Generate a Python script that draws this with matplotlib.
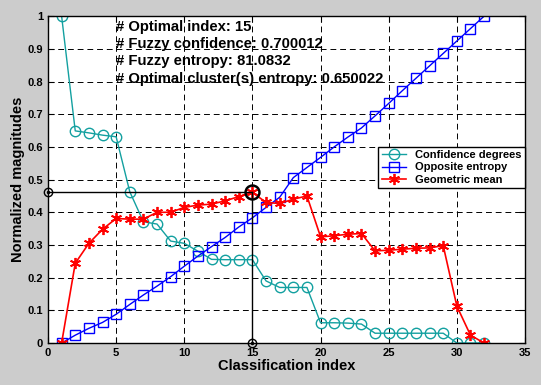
import numpy as np
import matplotlib
matplotlib.use('Agg')
import matplotlib.pyplot as plt

plt.rcParams['font.family'] = ['Liberation Sans', 'DejaVu Sans']
plt.rcParams['font.weight'] = 'bold'

# data
idx = np.arange(1, 33)
confidence = [1.0, 0.649, 0.643, 0.636, 0.631, 0.463, 0.371, 0.364, 0.312, 0.305,
              0.281, 0.256, 0.255, 0.255, 0.255, 0.19, 0.17, 0.17, 0.17, 0.062,
              0.062, 0.061, 0.058, 0.03, 0.03, 0.03, 0.03, 0.03, 0.03, 0.0,
              0.0, 0.0]
opposite = [0.0, 0.024, 0.045, 0.063, 0.088, 0.118, 0.147, 0.174, 0.203, 0.235,
            0.266, 0.295, 0.323, 0.355, 0.383, 0.415, 0.446, 0.506, 0.537, 0.568,
            0.6, 0.63, 0.658, 0.695, 0.733, 0.772, 0.81, 0.848, 0.886, 0.924,
            0.962, 1.0]
geomean = [0.0, 0.244, 0.305, 0.348, 0.381, 0.379, 0.379, 0.4, 0.4, 0.415,
           0.422, 0.425, 0.435, 0.448, 0.461, 0.43, 0.427, 0.44, 0.45, 0.325,
           0.328, 0.333, 0.335, 0.282, 0.284, 0.287, 0.29, 0.291, 0.298, 0.113,
           0.024, 0.0]

opt_index = 15
opt_value = geomean[opt_index - 1]
info = ['# Optimal index: 15',
        '# Fuzzy confidence: 0.700012',
        '# Fuzzy entropy: 81.0832',
        '# Optimal cluster(s) entropy: 0.650022']

fig = plt.figure(figsize=(5.41, 3.85), dpi=100, facecolor='#cccccc')
ax = fig.add_axes([0.0887, 0.109, 0.8817, 0.849])

teal = '#13a0a0'
ax.plot(idx, confidence, '-o', color=teal, mfc='none', ms=7.5, lw=1, mew=1,
        label='Confidence degrees')
ax.plot(idx, opposite, '-s', color='blue', mfc='none', ms=7.5, lw=1, mew=1,
        label='Opposite entropy')
ax.plot(idx, geomean, '-', marker=(6, 2, 0), color='red', ms=8, lw=1.2, mew=1.3,
        label='Geometric mean')

# crosshair at the optimum
ax.plot([0, opt_index], [opt_value, opt_value], color='black', lw=1, clip_on=False)
ax.plot([opt_index, opt_index], [0, opt_value], color='black', lw=1, clip_on=False)
ax.plot([0, opt_index], [opt_value, 0], 'o', color='black', mfc='none', ms=6,
        mew=1, ls='none', clip_on=False)
ax.plot([0, opt_index], [opt_value, 0], '.', color='black', ms=3, ls='none',
        clip_on=False)
ax.plot([opt_index], [opt_value], 'o', color='black', mfc='none', ms=10, mew=1.8)

ax.text(5, 0.888, '\n'.join(info), fontsize=10.7, fontweight='bold',
        va='center', ha='left', linespacing=1.3)

ax.set_xlim(0, 35)
ax.set_ylim(0, 1)
ax.set_xticks(np.arange(0, 36, 5))
ax.set_yticks(np.arange(0, 1.01, 0.1))
ax.set_yticklabels(['0', '0.1', '0.2', '0.3', '0.4', '0.5', '0.6', '0.7',
                    '0.8', '0.9', '1'])
ax.tick_params(direction='in', labelsize=8, length=4, top=True, right=True)
ax.grid(True, color='black', ls=(0, (6, 4)), lw=0.7)
for s in ax.spines.values():
    s.set_linewidth(1)

ax.set_xlabel('Classification index', fontsize=10.5, fontweight='bold', labelpad=1)
ax.set_ylabel('Normalized magnitudes', fontsize=10.5, fontweight='bold', labelpad=2)

leg = ax.legend(loc='upper right', bbox_to_anchor=(1.0, 0.6), borderaxespad=0,
                fancybox=False, framealpha=1, edgecolor='black', fontsize=8,
                handlelength=2.2, borderpad=0.3, labelspacing=0.2)
leg.get_frame().set_linewidth(1)

fig.savefig('out.png', dpi=100, facecolor=fig.get_facecolor())
